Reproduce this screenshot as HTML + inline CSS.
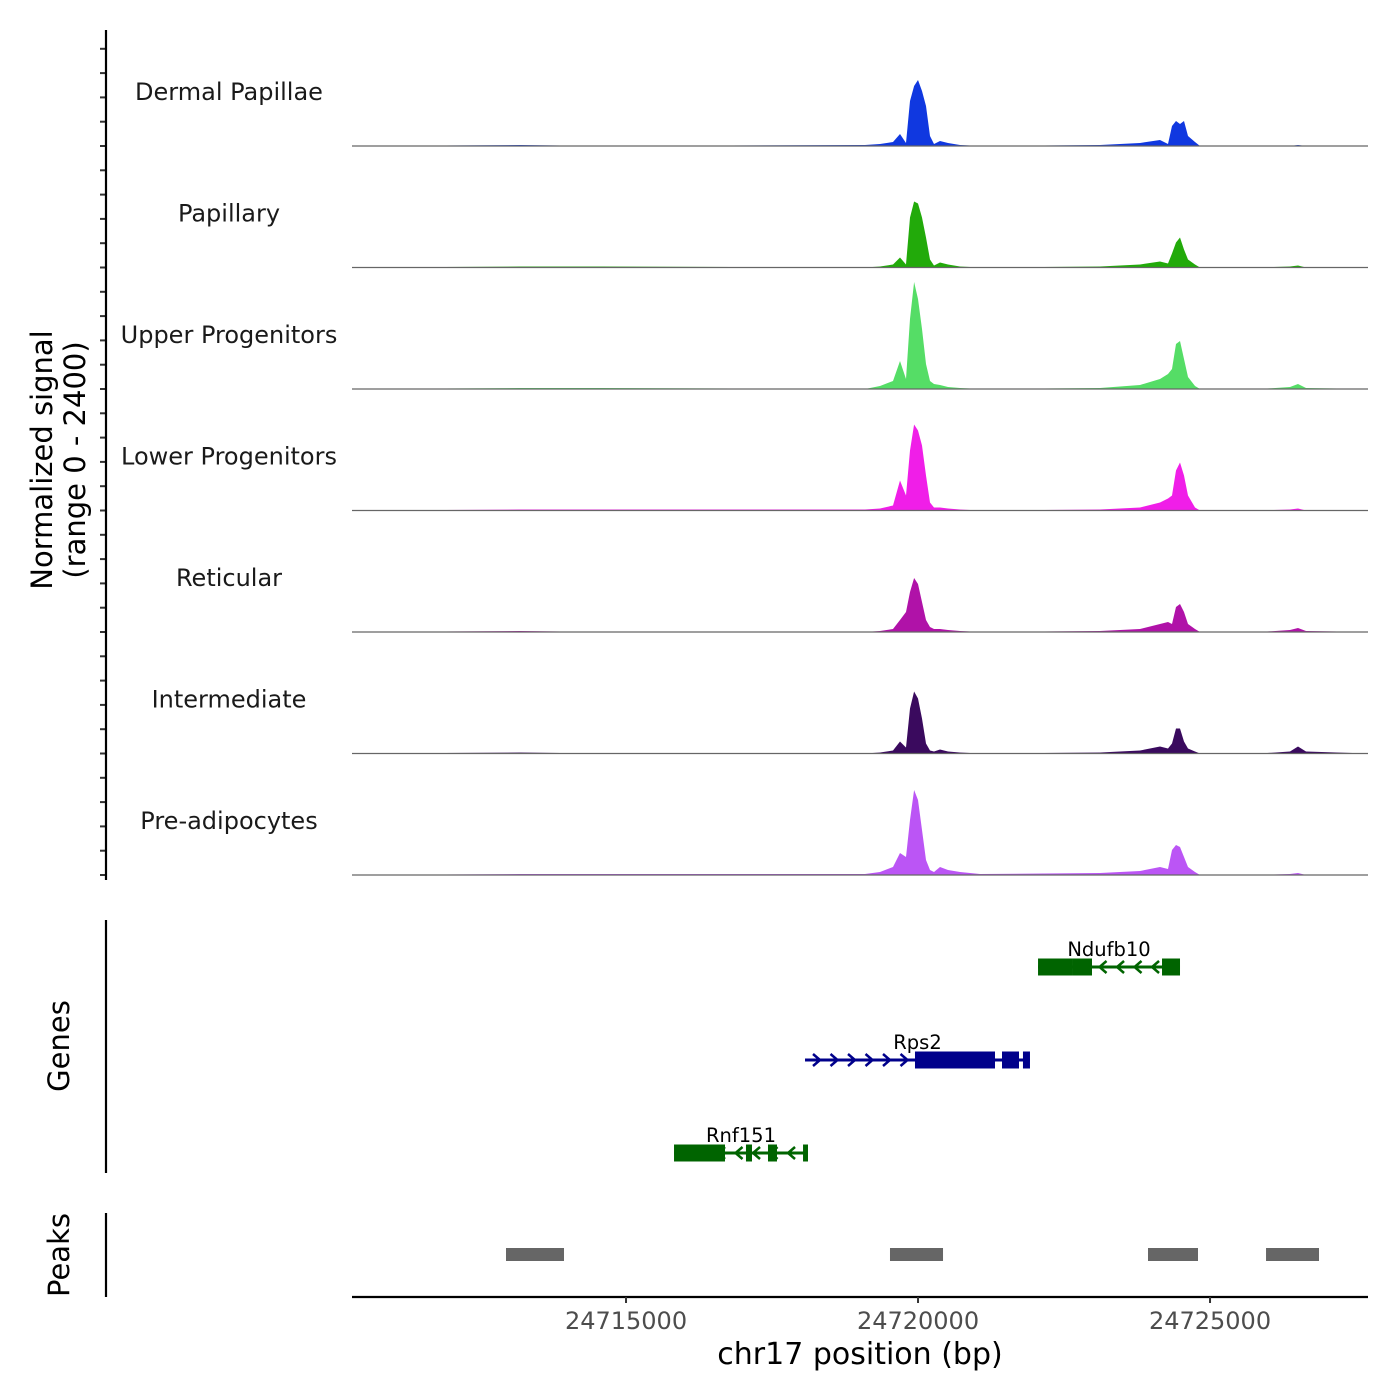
<!DOCTYPE html>
<html><head><meta charset="utf-8"><style>
body{margin:0;background:#fff}
svg{display:block;font-family:"DejaVu Sans","Liberation Sans",sans-serif}
</style></head><body>
<svg id="c" width="1400" height="1400" xmlns="http://www.w3.org/2000/svg"></svg>
<script>
const NS="http://www.w3.org/2000/svg";
const trackNames=["Dermal Papillae","Papillary","Upper Progenitors","Lower Progenitors","Reticular","Intermediate","Pre-adipocytes"];
const trackColors=["#1038e0","#22aa0a","#55dd66","#f01ee8","#b012a8","#3a0a5e","#bb55f5"];
const positions=[24710308,24713185,24714555,24719092,24719349,24719571,24719692,24719795,24719863,24719932,24720000,24720068,24720137,24720205,24720274,24720377,24720514,24720719,24721062,24723116,24723801,24724144,24724281,24724349,24724418,24724486,24724555,24724623,24724743,24724829,24725856,24726370,24726507,24726644,24727705];
const sig0=[0,1,0,1,2,4,12,3,45,60,66,55,40,10,2,5,3,1,0,1,3,6,2,20,25,22,25,10,4,0,0,0,1,0,0];
const sig1=[0,1,1,0,1,3,10,3,50,66,64,50,30,8,2,5,3,1,0,1,3,6,4,14,25,30,18,8,3,0,0,1,2,0,0];
const sig2=[0,1,1,0,3,8,28,10,70,107,90,60,25,8,5,4,2,1,0,1,4,10,15,20,45,48,30,12,3,0,0,2,5,1,0];
const sig3=[0,1,1,1,2,5,30,15,60,86,80,65,35,8,3,3,2,1,0,1,3,8,12,15,40,48,35,15,3,0,0,1,2,0,0];
const sig4=[0,1,0,0,1,3,12,20,40,54,48,30,12,5,3,3,2,1,0,1,3,8,10,8,25,28,20,8,3,0,0,2,4,1,0];
const sig5=[0,1,0,0,1,3,12,6,45,62,55,35,10,3,2,4,2,1,0,1,3,7,5,10,25,25,12,5,2,0,0,2,7,2,0];
const sig6=[0,1,1,1,3,8,22,18,55,85,75,45,15,5,3,8,5,3,1,2,4,8,6,25,30,28,18,8,3,0,0,1,2,0,0];
const signals=[sig0,sig1,sig2,sig3,sig4,sig5,sig6];
const xTicks=[24715000,24720000,24725000];
const peakStarts=[24712945,24719520,24723938,24725959];
const peakEnds=[24713938,24720428,24724794,24726866];
const geneNames=["Ndufb10","Rps2","Rnf151"];
const geneStarts=[24722055,24718065,24715822];
const geneEnds=[24724486,24721917,24718116];
const geneStrand=[-1,1,-1];
const geneExonStarts=[[24722055,24722637,24724178],[24719948,24721438,24721797],[24715822,24717054,24717431,24718031]];
const geneExonEnds=[[24722637,24722979,24724486],[24721318,24721729,24721917],[24716695,24717157,24717585,24718116]];
const geneColors=["#006400","#00008b","#006400"];

const X0=24710308,X1=24727705,PX0=352,PX1=1368;
const xs=v=>PX0+(v-X0)/(X1-X0)*(PX1-PX0);
const TH=121.5, YMAX=121.5, base0=146;
const ys=(i,v)=>base0+i*TH - v/YMAX*TH;
const svg=document.getElementById('c');
function el(t,a,p){const e=document.createElementNS(NS,t);for(const k in a)e.setAttribute(k,a[k]);(p||svg).appendChild(e);return e;}
function txt(s,a,p){const e=el('text',a,p);e.textContent=s;return e;}

signals.forEach((sig,i)=>{
  const g=el('g',{});
  
  
  let d='M'+xs(positions[0])+','+ys(i,0);
  positions.forEach((p,j)=>{d+=' L'+xs(p).toFixed(1)+','+ys(i,sig[j]).toFixed(1);});
  d+=' L'+xs(positions[positions.length-1])+','+ys(i,0)+' Z';
  const a=el('path',{d:d,fill:trackColors[i]},g);
  
  
  const bl=el('line',{x1:PX0,x2:PX1,y1:ys(i,0),y2:ys(i,0),stroke:'#666','stroke-width':1.2},g);
  
  
  const t=txt(trackNames[i],{x:229,y:ys(i,0)-46,'text-anchor':'middle','font-size':24,fill:'#1a1a1a'},g);
  
  
  for(let k=0;k<5;k++){
    const yy=ys(i,0)-k*TH/5;
    const tk=el('line',{x1:100,x2:106,y1:yy,y2:yy,stroke:'#333','stroke-width':2},g);
    
    
  }
});
const yax=el('line',{x1:106,x2:106,y1:30,y2:880,stroke:'#000','stroke-width':2.2});


const yt=el('text',{transform:'translate(52,460) rotate(-90)','text-anchor':'middle','font-size':29,fill:'#000'});


yt.innerHTML='<tspan x="0" dy="0">Normalized signal</tspan><tspan x="0" dy="33">(range 0 - 2400)</tspan>';

const gax=el('line',{x1:106,x2:106,y1:920,y2:1173,stroke:'#000','stroke-width':2.2});


const gt=txt('Genes',{transform:'translate(69,1046) rotate(-90)','text-anchor':'middle','font-size':29});


const geneY=[967,1060,1153];
geneNames.forEach((n,i)=>{
  const g=el('g',{});
  
  
  const y=geneY[i],c=geneColors[i];
  el('line',{x1:xs(geneStarts[i]),x2:xs(geneEnds[i]),y1:y,y2:y,stroke:c,'stroke-width':3},g);
  const a0=xs(geneStarts[i]),a1=xs(geneEnds[i]);
  for(let x=a0+12;x<a1-6;x+=17.5){
    const d=geneStrand[i]>0?`M${x-4},${y-6} L${x+3},${y} L${x-4},${y+6}`:`M${x+4},${y-6} L${x-3},${y} L${x+4},${y+6}`;
    el('path',{d:d,fill:'none',stroke:c,'stroke-width':2.5},g);
  }
  geneExonStarts[i].forEach((s,k)=>{
    el('rect',{x:xs(s),y:y-8.5,width:xs(geneExonEnds[i][k])-xs(s),height:17,fill:c},g);
  });
  const l=txt(n,{x:(a0+a1)/2,y:y-11,'text-anchor':'middle','font-size':19.5,fill:'#000'},g);
  
  
});

const pax=el('line',{x1:106,x2:106,y1:1213,y2:1297,stroke:'#000','stroke-width':2.2});


const pt=txt('Peaks',{transform:'translate(69,1255) rotate(-90)','text-anchor':'middle','font-size':29});


peakStarts.forEach((s,i)=>{
  const r=el('rect',{x:xs(s),y:1248,width:xs(peakEnds[i])-xs(s),height:13,fill:'#666'});
  
  
});

const xa=el('line',{x1:PX0,x2:PX1,y1:1297,y2:1297,stroke:'#000','stroke-width':2.2});


xTicks.forEach(t=>{
  const tk=el('line',{x1:xs(t),x2:xs(t),y1:1297,y2:1303,stroke:'#333','stroke-width':2});
  
  
  const l=txt(String(t),{x:xs(t),y:1329,'text-anchor':'middle','font-size':24,fill:'#4d4d4d'});
  
  
});
const xt=txt('chr17 position (bp)',{x:860,y:1364,'text-anchor':'middle','font-size':30,fill:'#000'});


</script>
</body></html>
